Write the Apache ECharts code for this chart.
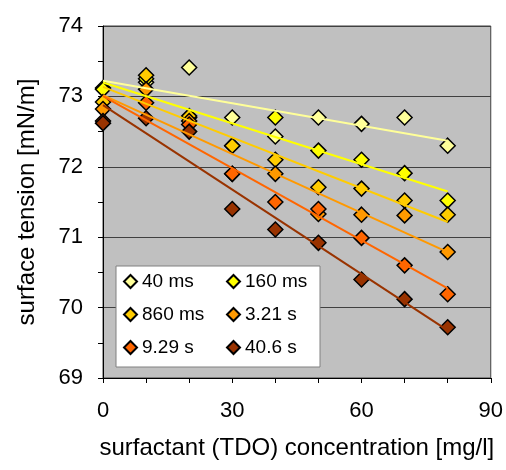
<!DOCTYPE html>
<html>
<head>
<meta charset="utf-8">
<script src="https://cdn.jsdelivr.net/npm/echarts@6/dist/echarts.min.js"></script>
<style>
  html, body { margin: 0; padding: 0; background: #fff; }
  #chart { width: 506px; height: 470px; }
</style>
</head>
<body>
<div id="chart"></div>
<script>
// surfactant concentration [mg/l]
const conc = [0, 10, 20, 30, 40, 50, 60, 70, 80];
const seriesNames = ['40 ms', '160 ms', '860 ms', '3.21 s', '9.29 s', '40.6 s'];
// surface tension [mN/m] per surface age
const t40ms  = [73.12, 73.2, 73.41, 72.7, 72.43, 72.7, 72.61, 72.7, 72.3];
const t160ms = [73.1, 73.25, 72.7, 72.3, 72.7, 72.23, 72.1, 71.91, 71.52];
const t860ms = [72.92, 73.3, 72.72, 72.3, 72.1, 71.71, 71.69, 71.52, 71.32];
const t321s  = [72.82, 73.1, 72.65, 71.9, 71.9, 71.33, 71.32, 71.31, 70.79];
const t929s  = [72.65, 72.91, 72.6, 71.9, 71.5, 71.4, 70.99, 70.6, 70.19];
const t406s  = [72.62, 72.69, 72.5, 71.4, 71.11, 70.92, 70.4, 70.12, 69.72];
const colors = ['#FFFF99', '#FFFF00', '#FFCC00', '#FF9900', '#FF6600', '#993300'];

const allData = [t40ms, t160ms, t860ms, t321s, t929s, t406s];
const font = 'Liberation Sans, Arial, sans-serif';

// least squares line, drawn from first to last concentration
function fit(ys) {
  const n = conc.length;
  let mx = 0, my = 0;
  for (let i = 0; i < n; i++) { mx += conc[i]; my += ys[i]; }
  mx /= n; my /= n;
  let sxy = 0, sxx = 0;
  for (let i = 0; i < n; i++) {
    sxy += (conc[i] - mx) * (ys[i] - my);
    sxx += (conc[i] - mx) * (conc[i] - mx);
  }
  const b = sxy / sxx, a = my - b * mx;
  const x0 = conc[0], x1 = conc[n - 1];
  return [[x0, a + b * x0], [x1, a + b * x1]];
}

const series = [];
allData.forEach((ys, i) => {
  series.push({
    name: seriesNames[i],
    type: 'scatter',
    symbol: 'diamond',
    symbolSize: 15,
    z: 2,
    itemStyle: { color: colors[i], borderColor: '#000', borderWidth: 1.5, opacity: 1 },
    data: conc.map((x, j) => [x, ys[j]])
  });
});
allData.forEach((ys, i) => {
  series.push({
    name: seriesNames[i] + ' fit',
    type: 'line',
    showSymbol: false,
    symbol: 'none',
    z: 3,
    silent: true,
    lineStyle: { color: colors[i], width: 2 },
    data: fit(ys)
  });
});

const chart = echarts.init(document.getElementById('chart'));
chart.setOption({
  animation: false,
  textStyle: { fontFamily: font },
  grid: {
    left: 103, right: 15, top: 26, bottom: 92,
    show: true,
    backgroundColor: '#C0C0C0',
    borderColor: '#404040',
    borderWidth: 1
  },
  legend: {
    data: seriesNames,
    left: 116,
    top: 266,
    width: 196,
    orient: 'horizontal',
    icon: 'diamond',
    itemWidth: 13,
    itemHeight: 13,
    itemGap: 10,
    padding: [4, 1, 8, 7],
    backgroundColor: '#fff',
    borderColor: '#808080',
    borderWidth: 1,
    borderRadius: 0,
    textStyle: { fontSize: 19, color: '#000', width: 74, lineHeight: 23, fontFamily: font }
  },
  xAxis: {
    type: 'value',
    min: 0, max: 90, interval: 30,
    name: 'surfactant (TDO) concentration [mg/l]',
    nameLocation: 'middle',
    nameGap: 58,
    nameTextStyle: { fontSize: 24, color: '#000' },
    axisLine: { show: true, lineStyle: { color: '#000', width: 1 } },
    axisTick: { show: true, length: 5, lineStyle: { color: '#000' } },
    minorTick: { show: true, splitNumber: 3, length: 5, lineStyle: { color: '#000' } },
    axisLabel: { fontSize: 22, color: '#000', margin: 22 },
    splitLine: { show: false }
  },
  yAxis: {
    type: 'value',
    min: 69, max: 74, interval: 1,
    name: 'surface tension [mN/m]',
    nameLocation: 'middle',
    nameGap: 64,
    nameTextStyle: { fontSize: 24, color: '#000' },
    axisLine: { show: true, lineStyle: { color: '#000', width: 1 } },
    axisTick: { show: true, length: 5, lineStyle: { color: '#000' } },
    minorTick: { show: true, splitNumber: 2, length: 5, lineStyle: { color: '#000' } },
    axisLabel: { fontSize: 22, color: '#000', margin: 20 },
    splitLine: { show: true, lineStyle: { color: '#404040', width: 1 } }
  },
  series: series
});
</script>
</body>
</html>
